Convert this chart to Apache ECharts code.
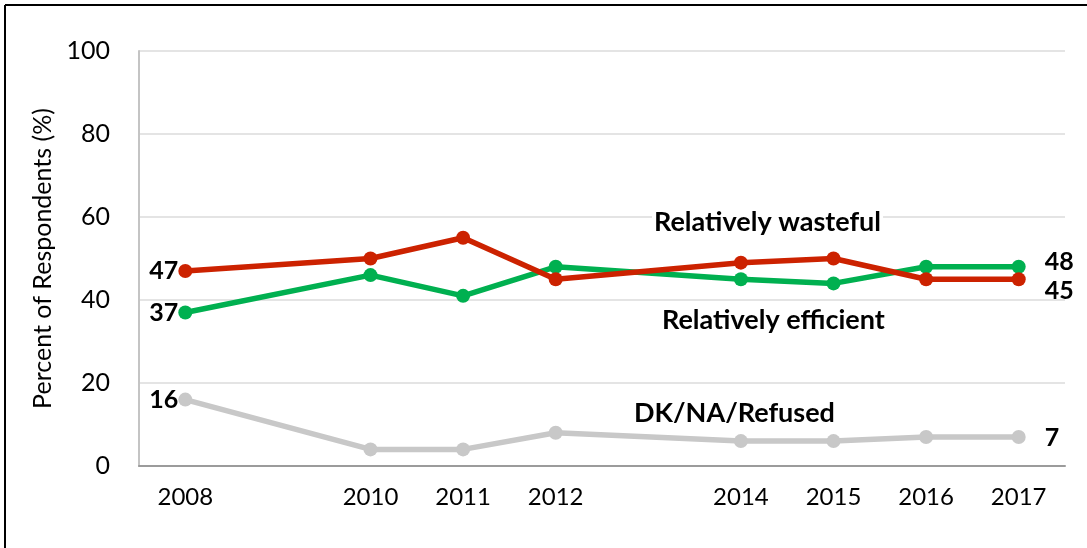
<!DOCTYPE html>
<html>
<head>
<meta charset="utf-8">
<script src="https://cdn.jsdelivr.net/npm/echarts@6/dist/echarts.min.js"></script>
<style>
  html, body { margin: 0; padding: 0; background: #fff; }
  #chart { width: 1087px; height: 548px; }
</style>
</head>
<body>
<div id="chart"></div>
<script>
// Survey years (uneven spacing, so the x axis is numeric)
const years = [2008, 2010, 2011, 2012, 2014, 2015, 2016, 2017];
// Share of respondents by answer (%)
const wasteful = [47, 50, 55, 45, 49, 50, 45, 45];
const efficient = [37, 46, 41, 48, 45, 44, 48, 48];
const dkna = [16, 4, 4, 8, 6, 6, 7, 7];
const yTicks = [0, 20, 40, 60, 80, 100];

const FONT = 'Lato, "Open Sans", sans-serif';

function pairs(vals) {
  return years.map((y, i) => [y, vals[i]]);
}

// Label only the first and last point of each line
function endLabels(vals, lastOffset) {
  return pairs(vals).map((p, i) => {
    const item = { value: p };
    if (i === 0) {
      item.label = { show: true, position: 'left', distance: 0 };
    } else if (i === vals.length - 1) {
      item.label = { show: true, position: 'right', distance: 19, offset: lastOffset };
    }
    return item;
  });
}

const labelStyle = {
  show: false,
  color: '#000',
  fontFamily: FONT,
  fontWeight: 'bold',
  fontSize: 25,
  formatter: p => p.value[1]
};

function series(name, vals, color, lastOffset) {
  return {
    name: name,
    type: 'line',
    data: endLabels(vals, lastOffset),
    symbol: 'circle',
    symbolSize: 14,
    lineStyle: { color: color, width: 5.5 },
    itemStyle: { color: color },
    label: labelStyle,
    z: 3
  };
}

function note(text, x, y) {
  return {
    type: 'text', x: x, y: y, z: 10,
    style: {
      text: text, fill: '#000', font: 'bold 27px ' + FONT,
      verticalAlign: 'middle', backgroundColor: '#fff', padding: [0, 2]
    }
  };
}

const chart = echarts.init(document.getElementById('chart'), null, { renderer: 'canvas' });
chart.setOption({
  animation: false,
  grid: { left: 139, right: 22, top: 51, bottom: 82 },
  xAxis: {
    type: 'value',
    min: 2007.5,
    max: 2017.5,
    splitLine: { show: false },
    axisTick: { show: false },
    axisLine: { show: true, lineStyle: { color: '#9b9b9b', width: 2 } },
    axisLabel: {
      customValues: years,
      color: '#000',
      fontFamily: FONT,
      fontSize: 24,
      margin: 19,
      formatter: v => String(v)
    }
  },
  yAxis: {
    type: 'value',
    min: 0,
    max: 100,
    interval: 20,
    name: 'Percent of Respondents (%)',
    nameLocation: 'middle',
    nameGap: 84,
    nameTextStyle: { color: '#000', fontFamily: FONT, fontSize: 25 },
    axisLine: { show: true, lineStyle: { color: '#c4c4c4', width: 2 } },
    axisTick: { show: false },
    splitLine: { lineStyle: { color: '#e4e4e4', width: 2 } },
    axisLabel: {
      customValues: yTicks,
      color: '#000',
      fontFamily: FONT,
      fontSize: 25,
      margin: 29
    }
  },
  series: [
    series('Relatively efficient', efficient, '#00b050', [0, -5]),
    series('Relatively wasteful', wasteful, '#cc2200', [0, 12]),
    series('DK/NA/Refused', dkna, '#c8c8c8', [0, 1])
  ],
  graphic: [
    { type: 'line', shape: { x1: 5, y1: 5, x2: 1087, y2: 5 }, style: { stroke: '#000', lineWidth: 2 } },
    { type: 'line', shape: { x1: 5, y1: 5, x2: 5, y2: 548 }, style: { stroke: '#000', lineWidth: 2 } },
    note('Relatively wasteful', 652, 222),
    note('Relatively efficient', 660, 320),
    note('DK/NA/Refused', 632, 413)
  ]
});
</script>
</body>
</html>
